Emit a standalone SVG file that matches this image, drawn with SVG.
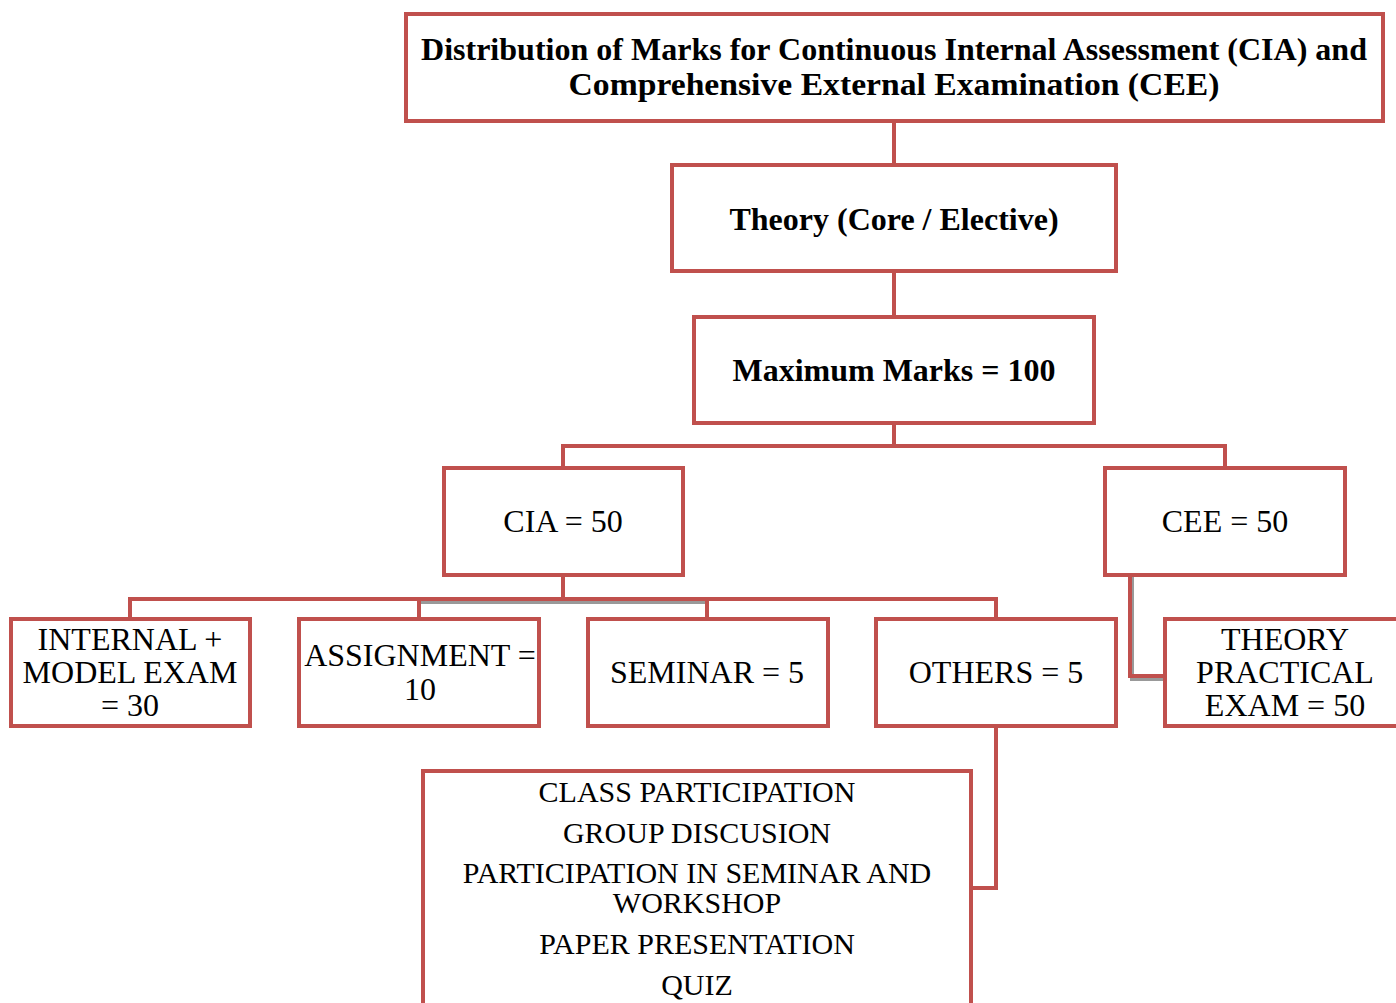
<svg xmlns="http://www.w3.org/2000/svg" width="1396" height="1003" viewBox="0 0 1396 1003">
<style>
.box{fill:#fff;stroke:#C0504D;stroke-width:4}
.ln{fill:none;stroke:#C0504D;stroke-width:4}
.sh{fill:none;stroke:#999;stroke-width:4}
text{font-family:"Liberation Serif","Times New Roman",serif;font-size:32px;fill:#000;text-anchor:middle}
.b{font-weight:bold}
.t{font-size:31px}
.s{font-size:30px}
</style>
<rect width="1396" height="1003" fill="#fff"/>
<g id="connectors">
<line class="ln" x1="894" y1="121" x2="894" y2="165"/>
<line class="ln" x1="894" y1="271" x2="894" y2="317"/>
<polyline class="ln" points="894,423 894,446"/>
<polyline class="ln" points="563,468 563,446 1225,446 1225,468"/>
<line class="sh" x1="419" y1="602" x2="707" y2="602"/>
<polyline class="ln" points="563,575 563,599"/>
<polyline class="ln" points="130,619 130,599 996,599 996,619"/>
<line class="ln" x1="419" y1="599" x2="419" y2="619"/>
<line class="ln" x1="707" y1="599" x2="707" y2="619"/>
<polyline class="sh" points="1132,577 1132,679 1165,679"/>
<polyline class="ln" points="1130,575 1130,676 1165,676"/>
<polyline class="ln" points="996,726 996,888 971,888"/>
</g>
<g id="title"><rect class="box" x="406" y="14" width="977" height="107"/>
<text class="b t" x="894" y="60" textLength="946" lengthAdjust="spacingAndGlyphs">Distribution of Marks for Continuous Internal Assessment (CIA) and</text>
<text class="b t" x="894" y="95" textLength="651" lengthAdjust="spacingAndGlyphs">Comprehensive External Examination (CEE)</text></g>
<g id="theory"><rect class="box" x="672" y="165" width="444" height="106"/>
<text class="b" x="894" y="230">Theory (Core / Elective)</text></g>
<g id="max"><rect class="box" x="694" y="317" width="400" height="106"/>
<text class="b" x="894" y="381">Maximum Marks = 100</text></g>
<g id="cia"><rect class="box" x="444" y="468" width="239" height="107"/>
<text x="563" y="532">CIA = 50</text></g>
<g id="cee"><rect class="box" x="1105" y="468" width="240" height="107"/>
<text x="1225" y="532">CEE = 50</text></g>
<g id="internal"><rect class="box" x="11" y="619" width="239" height="107"/>
<text x="130" y="650">INTERNAL +</text><text x="130" y="683">MODEL EXAM</text><text x="130" y="716">= 30</text></g>
<g id="assignment"><rect class="box" x="299" y="619" width="240" height="107"/>
<text x="420" y="666">ASSIGNMENT =</text><text x="420" y="700">10</text></g>
<g id="seminar"><rect class="box" x="588" y="619" width="240" height="107"/>
<text x="707" y="683">SEMINAR = 5</text></g>
<g id="others"><rect class="box" x="876" y="619" width="240" height="107"/>
<text x="996" y="683">OTHERS = 5</text></g>
<g id="theorypractical"><rect class="box" x="1165" y="619" width="240" height="107"/>
<text x="1285" y="650">THEORY</text><text x="1285" y="683">PRACTICAL</text><text x="1285" y="716">EXAM = 50</text></g>
<g id="othersdetail"><rect class="box" x="423" y="771" width="548" height="240"/>
<text class="s" x="697" y="802">CLASS PARTICIPATION</text>
<text class="s" x="697" y="843">GROUP DISCUSION</text>
<text class="s" x="697" y="883">PARTICIPATION IN SEMINAR AND</text>
<text class="s" x="697" y="913">WORKSHOP</text>
<text class="s" x="697" y="954">PAPER PRESENTATION</text>
<text class="s" x="697" y="995">QUIZ</text></g>
</svg>
